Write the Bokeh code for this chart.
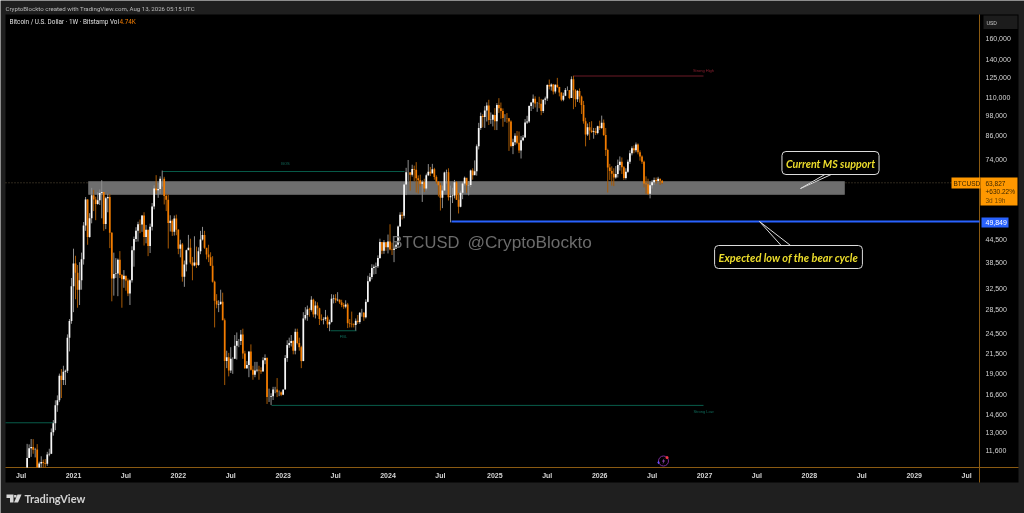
import math
import pandas as pd
from bokeh.embed import file_html
from bokeh.resources import INLINE
from bokeh.plotting import figure
from bokeh.models import (ColumnDataSource, Range1d, FixedTicker, NumeralTickFormatter, LinearAxis, LogAxis,
                          Label, BoxAnnotation, PolyAnnotation)

first_open = 9950
first_week = "2020-07-27"

closes = [
 11050,11770,11860,11650,11680,10250,10670,10780,10720,10660,11300,11360,13030,13800,15480,15970,18680,18180,19150,19270,23800,26480,33000,
 38200,36000,32280,34300,39200,48600,57400,45200,50900,59000,57400,55800,57100,59800,60200,49100,57800,58300,46400,34700,35700,35800,39100,35500,34500,35300,34240,31530,34300,41500,44600,47000,49000,48900,51800,45200,47300,42700,48200,54900,61500,60900,61300,65500,65500,58700,57300,49400,50100,46700,50800,47300,
 41900,43100,35100,37900,41500,42200,38400,37700,38400,37800,41300,44500,45800,42200,40400,39700,37600,34000,30100,29400,29500,29900,26600,20500,21000,19300,20800,20800,22600,23300,23300,24300,21500,19600,20000,21800,19400,18800,19300,19400,19300,19200,20600,20900,16300,16300,16400,17100,17100,16800,16800,16550,
 17100,20900,22700,23000,23300,21900,24700,23000,22400,20500,26900,27500,28500,28400,30300,27600,29200,28700,26800,26700,26800,27100,25900,26300,30500,30600,30200,30300,29800,29300,29000,29400,26100,26000,25900,25800,26500,26300,27900,27900,27100,29900,34100,35000,37100,37400,37500,39500,43800,41400,43700,42300,
 43900,41700,41600,42000,43000,48300,52100,51700,63100,68300,68300,67200,69700,69300,65700,64900,63400,64000,61500,67000,68500,67700,69600,66200,64300,62800,58000,60800,68200,68300,58200,58700,58900,64000,57300,54800,59900,63500,65900,62800,62900,69000,67000,68700,80500,90500,97700,97000,101100,104500,95200,95300,98300,
 94500,104800,102600,100800,96500,96500,96300,94300,80700,82600,86100,82400,78400,83700,85200,93700,94300,104100,106500,109000,105700,105700,105600,100900,108300,109200,119000,117900,119400,114200,119200,117400,113400,108300,111100,115300,115300,109600,123500,115000,108600,114500,110500,104700,94400,86800,90900,89000,88200,88600,87700,91500,
 90500,93600,86500,78700,70300,68800,67600,66000,67500,71500,73000,70500,65800,68500,73000,77000,79500,78500,81500,77500,75500,73000,63500,63200,59500,62800,64000,65000,64600,65500,64700,63827,
]

highs = [
 12100,12060,12480,12470,11800,12080,10800,11180,10950,10980,11500,11730,13350,14080,15970,16480,18930,19480,19900,19420,24300,26800,34800,
 41950,40100,37800,38500,40900,49700,58300,57500,52600,61800,61000,58400,60100,61200,64900,57000,58400,59500,59500,46600,40900,39500,39400,41300,35700,36600,35100,34700,34500,42600,45300,48100,49800,50500,51900,52900,48800,47300,49200,56100,62800,67000,63700,66500,69000,66300,59500,59200,51900,50600,51800,52100,
 47500,44400,43500,38900,41700,45800,44700,39800,45400,42500,42300,47000,48200,47000,41500,43000,41000,40000,34200,31400,30200,32300,31700,26900,21900,21600,22400,21000,24200,24600,23600,25000,25200,21900,20500,21800,22800,19900,20400,20400,19900,19700,21000,21400,21000,17200,16700,17400,17400,18400,17000,16900,
 17100,21300,23400,23800,24200,23400,25200,25200,23800,22600,28000,28900,29200,28800,31000,30500,30000,29800,28800,27600,27100,28400,27400,26700,31400,31300,31400,31800,30400,30300,29700,30200,29700,26800,28100,26100,26900,27500,28000,28600,28000,30400,35300,35900,38000,37900,38400,40200,44700,43500,44300,43800,
 45900,49000,43600,42800,43900,48600,52900,53000,64000,70200,73800,68000,71600,71200,72800,66900,67200,64800,65500,67700,71900,70600,72000,70200,66900,63300,63800,62700,68500,69400,70000,62700,61800,65000,64500,59800,60700,64100,66400,65500,64500,69400,70000,73600,81500,93500,99800,98800,104000,106500,108300,99900,98900,
 102700,106000,109400,106400,102500,98800,99500,96500,95000,84500,87500,88800,88500,86000,86500,95800,97800,104500,106700,112000,110700,106800,110400,108900,108500,110500,119500,123200,120200,119800,119400,124500,117600,113500,113300,116700,117900,113500,125700,126200,115900,115300,116400,111200,107500,96600,93100,94000,94500,90500,90500,91800,
 94800,97900,95500,90500,79300,72000,70900,70000,71000,74000,75500,75000,71000,70000,74000,78500,80500,81000,82500,82000,78500,76000,73500,66500,65500,63500,65000,66000,66000,66300,65500,65000,
]

lows = [
 9900,11100,11140,11360,11100,9860,9850,10200,10150,10370,10520,11180,11340,12750,13200,14840,15790,16200,17600,17600,19000,21800,26000,
 28000,30400,28800,29300,32300,37900,47000,43000,45000,49300,53300,50300,55500,55400,50900,47000,47500,52900,42100,30000,31100,34800,31000,34800,28800,32700,32100,31000,29300,33800,37400,43800,43900,46300,46700,42800,43400,40000,40800,47100,53900,59500,58000,59500,62300,55600,53300,42000,46800,45500,45600,45700,
 40500,39700,34000,32900,36300,41700,38000,34300,37500,37100,37600,40500,44200,41900,39200,38500,37600,33800,25400,28700,28000,29300,26600,17600,19600,18600,19000,18900,20800,20700,22400,22700,20800,19500,19500,18500,19300,18200,18500,19100,18200,18900,19200,20100,15600,15800,15500,16000,16700,16300,16400,16400,
 16500,17300,20400,22300,22500,21400,21400,22800,21900,19600,20500,26600,26500,27200,28100,27100,26900,27400,25800,26500,25900,26500,25300,24800,26200,29600,29700,30000,29500,28900,28600,28700,25300,25400,25400,25400,24900,26000,26000,27200,26500,26900,29800,33900,34500,35600,35700,37100,39300,40500,40600,41400,
 40700,41500,40300,38500,41900,42300,48300,50500,50900,59000,64600,60700,66400,64500,60000,59600,62400,56500,60200,60800,66600,66600,68400,65100,63400,58500,53500,54300,60700,63500,57000,49600,56100,57800,57200,52500,54600,57500,62700,59900,58900,62100,65100,67500,66800,78900,89400,90800,90500,94300,92200,92900,91400,
 89300,89300,99600,96000,91200,94100,93500,78200,80000,76600,81100,81600,77100,74500,83200,85100,92800,93400,100800,102200,103100,100300,102600,98200,99600,105100,107500,115700,114800,112000,112700,116800,110700,107300,107300,110800,114800,108700,109700,102000,103500,106800,106300,98900,93000,80500,86000,83800,87600,84500,86500,86900,
 89300,90000,86000,75700,60000,65000,62700,62500,65500,66000,69000,67500,65000,65200,68000,72000,76000,77000,77500,76500,73500,72000,62000,59500,59000,57800,61500,63000,63500,64000,63000,63300,
]

price_ticks = [160000,140000,125000,110000,98000,86000,74000,44500,38500,32500,28500,24500,21500,19000,16600,14600,13000,11600]
time_ticks = ["2020-07-06","2021-01-04","2021-07-05","2022-01-03","2022-07-04","2023-01-02","2023-07-03","2024-01-01","2024-07-01","2025-01-06","2025-07-07","2026-01-05","2026-07-06","2027-01-04","2027-07-05","2028-01-03","2028-07-03","2029-01-01","2029-07-02"]
time_labels = ["Jul","2021","Jul","2022","Jul","2023","Jul","2024","Jul","2025","Jul","2026","Jul","2027","Jul","2028","Jul","2029","Jul"]

last_price = 63827
support_top, support_bottom = 64350, 59240
bear_low = 49849
bos_level = 68570
strong_high = 126000
strong_low = 15460
fbl_level = 24870
old_level = 13840

WIDTH, HEIGHT = 1024, 513
WEEK = 7 * 86400000
T0 = pd.Timestamp("2021-01-04").value // 10**6
PX_WEEK = 2.016

def X(px):
    return T0 + (px - 73) / PX_WEEK * WEEK
def Y(py):
    return 160000 * math.exp((38 - py) / 157)
def ms(d):
    return pd.Timestamp(d).value // 10**6

weeks = [int(v.value // 10**6) for v in pd.date_range(first_week, periods=len(closes), freq="7D")]
opens = [first_open] + closes[:-1]
up = [c >= o for o, c in zip(opens, closes)]
FLOOR = Y(467)   # the chart pane's lower edge cuts the oldest candles off

UP_BODY, DN_BODY = "#f8f8f8", "#f27c00"
UP_WICK, DN_WICK = "#8f8f8f", "#a85a05"
source = ColumnDataSource(dict(
    t=weeks,
    top=[max(o, c) for o, c in zip(opens, closes)],
    bottom=[max(min(o, c), FLOOR) for o, c in zip(opens, closes)],
    high=highs, low=[max(v, FLOOR) for v in lows],
    body=[UP_BODY if u else DN_BODY for u in up],
    wick=[UP_WICK if u else DN_WICK for u in up],
))

OUTER = "#1f1f1f"
AXIS = "#8a5a12"
p = figure(width=WIDTH, height=HEIGHT, output_backend="svg", toolbar_location=None,
           x_axis_type="linear", y_axis_type="log", x_axis_location=None, y_axis_location=None,
           x_range=Range1d(X(0), X(WIDTH)), y_range=Range1d(Y(HEIGHT), Y(0)),
           min_border=0, background_fill_color=OUTER, border_fill_color=OUTER, outline_line_color=None)
p.styles = {"position": "fixed", "left": "0px", "top": "0px"}
p.grid.visible = False

y_axis = LogAxis(fixed_location=X(979))
x_axis = LinearAxis(fixed_location=Y(467))
for ax in (x_axis, y_axis):
    ax.axis_line_color = None
    ax.major_tick_line_color = None
    ax.minor_tick_line_color = None
    ax.major_label_text_color = "#d4d4d4"
    ax.major_label_text_font = "Liberation Sans"
    ax.major_label_text_font_size = "7px"

y_axis.ticker = FixedTicker(ticks=price_ticks, minor_ticks=[])
y_axis.formatter = NumeralTickFormatter(format="0,0")
y_axis.major_label_standoff = 0
tick_ms = [ms(d) for d in time_ticks]
x_axis.ticker = FixedTicker(ticks=tick_ms, minor_ticks=[])
x_axis.major_label_overrides = dict(zip(tick_ms, time_labels))
x_axis.major_label_standoff = -2
x_axis.major_label_text_font_style = "bold"
p.add_layout(y_axis, "right")
p.add_layout(x_axis, "below")

# panes and tags, placed in canvas pixels
def panel(l, r, t, b, color, level="underlay"):
    p.add_layout(BoxAnnotation(left=l, right=r, top=t, bottom=b, left_units="canvas", right_units="canvas",
                               top_units="canvas", bottom_units="canvas", fill_color=color, fill_alpha=1,
                               line_color=None, level=level))
panel(5, 1018, 14, 482, "#000000")

# pane separators
p.line([X(979), X(979)], [Y(14), Y(482)], line_color=AXIS, line_width=1)
p.line([X(5), X(1018)], [Y(467), Y(467)], line_color=AXIS, line_width=1)

# levels
p.line([X(5), X(951)], [last_price, last_price], line_color="#5a4e3a", line_width=1, line_dash="1 2")
p.quad(left=[X(88)], right=[X(844)], top=[support_top], bottom=[support_bottom], fill_color="#6e6e6e", line_color="#7a7a7a", line_width=0.5)

def hline(a, b, level, color, w=1):
    p.line([X(a), X(b)], [level, level], line_color=color, line_width=w)
TEAL = "#085c4a"
hline(162, 404, bos_level, TEAL)
hline(573, 703, strong_high, "#6d1b26")
hline(271, 703, strong_low, TEAL)
hline(330, 356, fbl_level, TEAL)
hline(5, 54, old_level, TEAL)
hline(451, 979, bear_low, "#2962ff", 2)

# candles
p.segment("t", "high", "t", "low", source=source, line_color="wick", line_width=1)
p.vbar(x="t", top="top", bottom="bottom", width=6 * 86400000, source=source, fill_color="body", line_color=None)

# callout pointers
def pointer(xs, ys):
    p.patch([X(v) for v in xs], [Y(v) for v in ys], fill_color="#000000", line_color="#dcdcdc", line_width=1)
pointer([827, 834, 800], [172.5, 172.5, 188])
pointer([782, 792, 759], [246.5, 246.5, 221])

def text(px, py, s, size, color, font="Liberation Sans", style="normal", align="left", **kw):
    lab = Label(x=px, y=py, x_units="canvas", y_units="canvas", text=s, text_font_size=f"{size}px", text_color=color, text_font=font,
                text_font_style=style, text_align=align, text_baseline="middle", **kw)
    p.add_layout(lab)
    return lab

for cx, cy, s, fs in [(830, 162.5, "Current MS support", 10.7), (788, 256.5, "Expected low of the bear cycle", 11)]:
    text(cx, cy, s, fs, "#ecdc2c", font="Lato", style="bold italic", align="center",
         background_fill_color="#000000", background_fill_alpha=1, border_line_color="#dcdcdc",
         border_line_width=1, padding=(4, 5), border_radius=4)

text(285, 163, "BOS", 4, "#0f6a5a", align="center")
text(703, 70, "Strong High", 4, "#8a2030", align="center")
text(703, 411, "Strong Low", 4, "#0f6a5a", align="center")
text(343, 336, "FBL", 4, "#0f6a5a", align="center")

text(391, 241, "BTCUSD", 16.5, "#6c6c6c")
text(467, 241, "@CryptoBlockto", 17.2, "#6c6c6c")

text(5, 7.5, "CryptoBlockto created with TradingView.com, Aug 13, 2026 05:15 UTC", 6.1, "#b9b9b9", font="Roboto")
text(9, 21, "Bitcoin / U.S. Dollar \u00b7 1W \u00b7 Bitstamp  Vol", 6.35, "#e0e0e0", font="Roboto")
text(119, 21, "4.74K", 6.35, "#f27c00", font="Roboto")

# price-scale tags
panel(983, 1017, 15, 28.5, "#1c1c1c", "annotation")
text(986, 22, "USD", 5.5, "#c4c4c4", font="Roboto")
ORANGE = "#ff9800"
panel(951, 980, 177, 188, ORANGE, "annotation")
panel(980, 1017, 177, 205, ORANGE, "annotation")
TAG = "#3b2600"
text(953, 182.5, "BTCUSD", 6.5, TAG)
text(985, 182.5, "63,827", 6.5, TAG)
text(985, 191, "+630.22%", 6.5, TAG)
text(985, 199.5, "3d 19h", 6.5, "#6e4500")
panel(981, 1008, 217, 227, "#2962ff", "annotation")
text(985, 222, "49,849", 7, "#ffffff")

# TradingView mark
def poly(xs, ys, color):
    p.add_layout(PolyAnnotation(xs=xs, ys=ys, xs_units="canvas", ys_units="canvas", fill_color=color, fill_alpha=1,
                                line_color=None, level="underlay", editable=False))
poly([6, 13, 13, 9.5, 9.5, 6], [494, 494, 502, 502, 497.5, 497.5], "#d8d8d8")
poly([17, 21, 17.5, 13.5], [494, 494, 502, 502], "#d8d8d8")
poly([13.6, 16, 16, 13.6], [494.5, 494.5, 497, 497], "#d8d8d8")
text(24, 498, "TradingView", 11, "#d2d2d2", font="Lato", style="bold")

# event badge
p.scatter([X(663)], [Y(460.5)], size=10, marker="circle", fill_color="#000000", line_color="#7b2a96", line_width=1)
p.scatter([X(666.5)], [Y(457)], size=3, marker="circle", fill_color="#f23645", line_color=None)
p.scatter([X(658)], [Y(462)], size=3.5, marker="diamond", fill_color="#6a4dff", line_color=None)
p.patch([X(v) for v in [664, 661.5, 663, 662, 664.5, 663]], [Y(v) for v in [457.5, 461, 461, 464, 460, 460]],
        fill_color="#a04ac0", line_color=None)

open("out.html", "w").write(file_html(p, INLINE))
